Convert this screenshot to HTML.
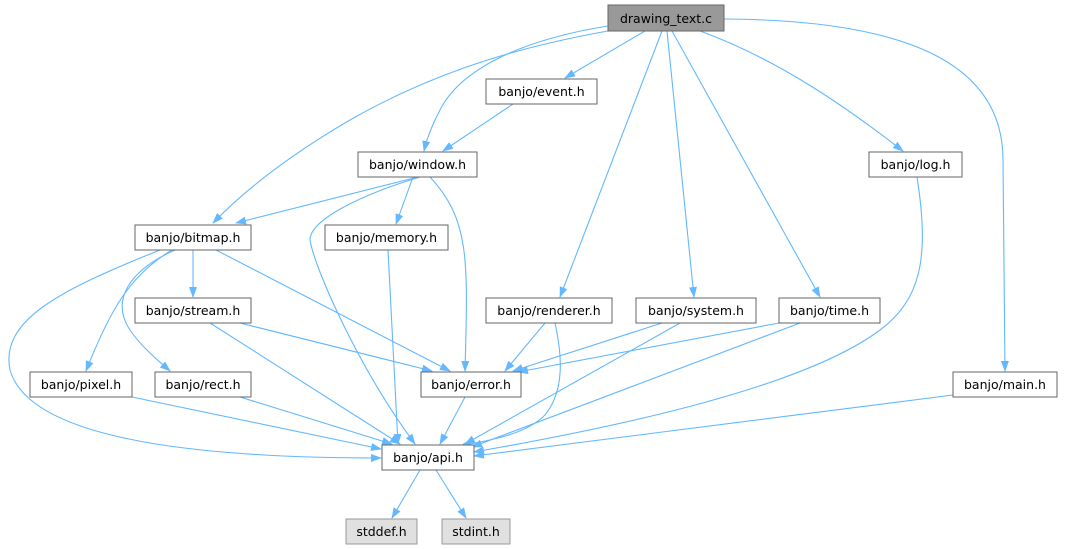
<!DOCTYPE html>
<html><head><meta charset="utf-8"><style>
html,body{margin:0;padding:0;background:#fff;}
svg{display:block;}
text{font-family:"DejaVu Sans","Liberation Sans",sans-serif;font-size:12.5px;fill:#000;}
.e{fill:none;stroke:#63b8ff;stroke-width:1.1;marker-end:url(#a);}
.n{fill:#fff;stroke:#666;stroke-width:1;}
.g{fill:#e0e0e0;stroke:#999;stroke-width:1;}
</style></head><body>
<svg width="1076" height="549" viewBox="0 0 1076 549" xmlns="http://www.w3.org/2000/svg">
<defs><marker id="a" markerWidth="11" markerHeight="8" refX="10" refY="4" orient="auto" markerUnits="userSpaceOnUse"><path d="M0,0 L11,4 L0,8 Z" fill="#63b8ff"/></marker></defs>
<path class="e" d="M608,26 C520,40 460,70 440,110 C432,125 427,138 424,151"/>
<path class="e" d="M608,31 C500,50 420,80 350,120 C290,155 245,190 213,223"/>
<path class="e" d="M645,31 L565,78"/>
<path class="e" d="M662,31 L560,297"/>
<path class="e" d="M667,31 L694,297"/>
<path class="e" d="M672,31 L820,297"/>
<path class="e" d="M700,31 C780,60 850,110 903,151"/>
<path class="e" d="M724,19 C900,20 1003,60 1003,160 L1005,371"/>
<path class="e" d="M513,104 L443,151"/>
<path class="e" d="M418,177 L236,223"/>
<path class="e" d="M413,177 L396,224"/>
<path class="e" d="M420,177 C360,195 310,220 310,240 C315,270 360,370 415,444"/>
<path class="e" d="M430,177 C470,220 468,260 465,371"/>
<path class="e" d="M193,250 L193,297"/>
<path class="e" d="M216,250 L450,371"/>
<path class="e" d="M172,250 C130,275 110,310 86,371"/>
<path class="e" d="M175,250 C130,270 110,300 130,330 C140,345 155,358 170,371"/>
<path class="e" d="M160,250 C60,290 0,320 10,370 C30,440 200,458 381,458"/>
<path class="e" d="M388,250 L398,444"/>
<path class="e" d="M240,323 L432,371"/>
<path class="e" d="M210,323 L400,444"/>
<path class="e" d="M132,397 L381,449"/>
<path class="e" d="M240,397 L392,444"/>
<path class="e" d="M465,397 L440,444"/>
<path class="e" d="M545,323 L505,371"/>
<path class="e" d="M555,323 C562,355 565,390 545,415 C525,435 490,440 460,446"/>
<path class="e" d="M662,323 L513,371"/>
<path class="e" d="M680,323 L465,444"/>
<path class="e" d="M779,323 L518,372"/>
<path class="e" d="M800,323 L472,447"/>
<path class="e" d="M917,177 C930,260 920,300 880,330 C800,390 600,430 474,452"/>
<path class="e" d="M953,395 L474,456"/>
<path class="e" d="M420,470 L392,518"/>
<path class="e" d="M436,470 L466,518"/>

<rect x="608" y="5" width="116" height="26" fill="#999" stroke="#666"/><text x="666" y="23" text-anchor="middle">drawing_text.c</text>
<rect class="n" x="486" y="79" width="111" height="25"/><text x="541.5" y="96" text-anchor="middle">banjo/event.h</text>
<rect class="n" x="358" y="152" width="119" height="25"/><text x="417.5" y="169" text-anchor="middle">banjo/window.h</text>
<rect class="n" x="869" y="152" width="93" height="25"/><text x="915.5" y="169" text-anchor="middle">banjo/log.h</text>
<rect class="n" x="135" y="225" width="116" height="25"/><text x="193" y="242" text-anchor="middle">banjo/bitmap.h</text>
<rect class="n" x="325" y="225" width="123" height="25"/><text x="386.5" y="242" text-anchor="middle">banjo/memory.h</text>
<rect class="n" x="135" y="298" width="116" height="25"/><text x="193" y="315" text-anchor="middle">banjo/stream.h</text>
<rect class="n" x="486" y="298" width="126" height="25"/><text x="549" y="315" text-anchor="middle">banjo/renderer.h</text>
<rect class="n" x="636" y="298" width="120" height="25"/><text x="696" y="315" text-anchor="middle">banjo/system.h</text>
<rect class="n" x="779" y="298" width="101" height="25"/><text x="829.5" y="315" text-anchor="middle">banjo/time.h</text>
<rect class="n" x="30" y="372" width="102" height="25"/><text x="81" y="389" text-anchor="middle">banjo/pixel.h</text>
<rect class="n" x="155" y="372" width="96" height="25"/><text x="203" y="389" text-anchor="middle">banjo/rect.h</text>
<rect class="n" x="421" y="372" width="100" height="25"/><text x="471" y="389" text-anchor="middle">banjo/error.h</text>
<rect class="n" x="953" y="372" width="104" height="25"/><text x="1005" y="389" text-anchor="middle">banjo/main.h</text>
<rect class="n" x="382" y="445" width="92" height="25"/><text x="428" y="462" text-anchor="middle">banjo/api.h</text>
<rect class="g" x="346" y="519" width="71" height="25"/><text x="381.5" y="536" text-anchor="middle">stddef.h</text>
<rect class="g" x="442" y="519" width="68" height="25"/><text x="476" y="536" text-anchor="middle">stdint.h</text>
</svg>
</body></html>
